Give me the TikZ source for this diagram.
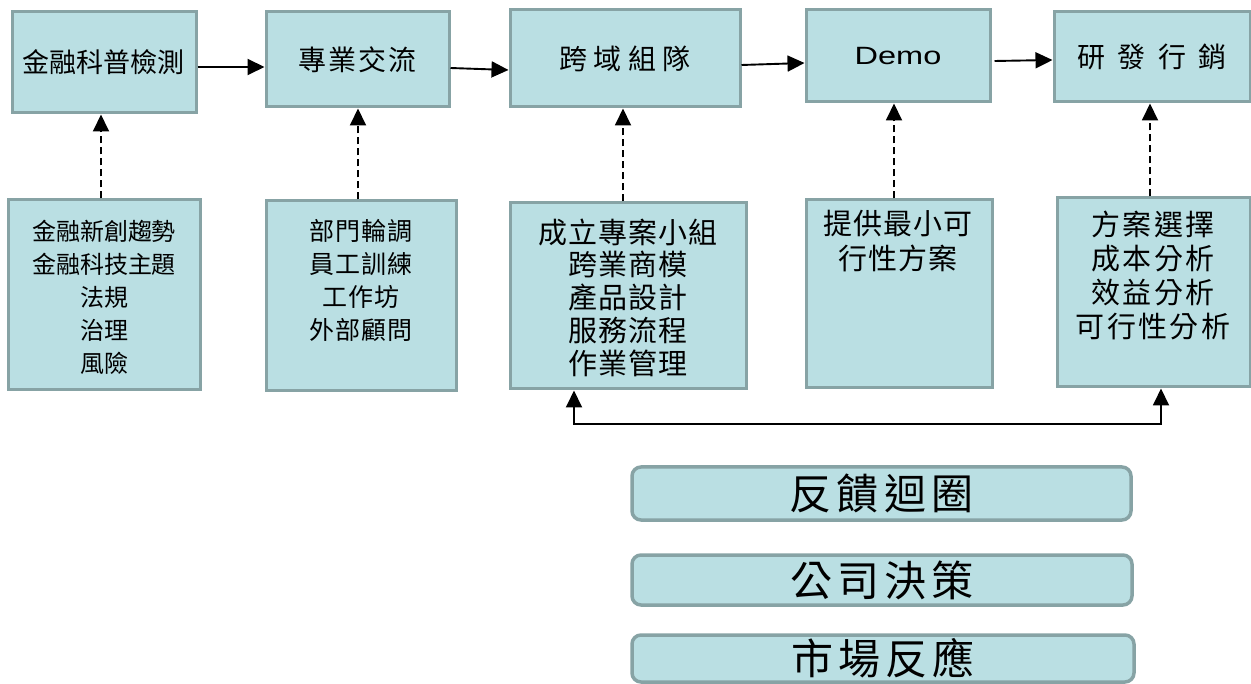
\documentclass[tikz,border=0pt]{standalone}
\usepackage{fontspec}
\setmainfont{Noto Sans CJK TC}
\newfontfamily\demofont{Liberation Sans}
\usetikzlibrary{arrows.meta}
\definecolor{boxfill}{RGB}{186,223,227}
\definecolor{boxline}{RGB}{135,163,165}
\newcommand{\fsz}[2]{\fontsize{#1}{#2}\selectfont}
\newcommand{\lsp}[1]{\addfontfeatures{LetterSpace=#1}}

\begin{document}
\begin{tikzpicture}[x=1pt,y=-1pt,
  stagebox/.style={draw=boxline, fill=boxfill, line width=3pt, inner sep=0pt},
  tagbox/.style={draw=boxline, fill=boxfill, line width=3.5pt, rounded corners=9pt, inner sep=0pt},
  notetext/.style={anchor=north, align=center, inner sep=0pt},
  tip/.style={-{Triangle[length=17pt,width=16pt]}},
  flow/.style={line width=1.9pt, tip},
  feed/.style={line width=1.9pt, dash pattern=on 7pt off 4pt, tip},
  loopline/.style={line width=1.9pt, {Triangle[length=17pt,width=16pt]}-{Triangle[length=17pt,width=16pt]}}
]
\useasboundingbox (0,0) rectangle (1251,684);

% stages of the process
\node[stagebox, minimum width=184pt, minimum height=101pt, font=\fsz{27}{30}] (s1) at (104,62.5) {金融科普檢測};
\node[stagebox, minimum width=183pt, minimum height=95pt, font=\fsz{28}{30}\lsp{8}] (s2) at (357.5,59.5) {專業交流};
\node[stagebox, minimum width=230pt, minimum height=97pt, font=\fsz{28}{30}\lsp{23}] (s3) at (625,58.5) {跨域組隊};
\node[stagebox, minimum width=184pt, minimum height=92pt, font=\demofont\fsz{25}{30}] (s4) at (898,56) {\scalebox{1.3}[1]{Demo}};
\node[stagebox, minimum width=196pt, minimum height=90pt, font=\fsz{28}{30}\lsp{45}] (s5) at (1152,57) {研發行銷};

% supporting items under each stage
\node[stagebox, minimum width=192pt, minimum height=190pt] (d1) at (104,295) {};
\node[stagebox, minimum width=190pt, minimum height=190pt] (d2) at (361,296) {};
\node[stagebox, minimum width=236pt, minimum height=186pt] (d3) at (628,296) {};
\node[stagebox, minimum width=186pt, minimum height=188pt] (d4) at (899,294) {};
\node[stagebox, minimum width=193pt, minimum height=189pt] (d5) at (1153.5,292.5) {};

\node[notetext, font=\fsz{24}{33}] (n1) at (104,220) {金融新創趨勢\\金融科技主題\\法規\\治理\\風險};
\node[notetext, font=\fsz{25}{33}\lsp{5}] (n2) at (361,219.5) {部門輪調\\員工訓練\\工作坊\\外部顧問};
\node[notetext, font=\fsz{29}{32.75}\lsp{4}] (n3) at (628,218.5) {成立專案小組\\跨業商模\\產品設計\\服務流程\\作業管理};
\node[notetext, font=\fsz{29}{35}\lsp{3}] (n4) at (898,209.5) {提供最小可\\行性方案};
\node[notetext, font=\fsz{29}{34}\lsp{8}] (n5) at (1153,210.5) {方案選擇\\成本分析\\效益分析\\可行性分析};

% main flow
\draw[flow] ([yshift=-4.5pt]s1.east) -- ([yshift=-7.5pt]s2.west);
\draw[flow] ([yshift=-8.5pt]s2.east) -- ([yshift=-11.5pt]s3.west);
\draw[flow] ([yshift=-6.5pt]s3.east) -- ([yshift=-7pt]s4.west);
\draw[flow] ([xshift=3pt,yshift=-5pt]s4.east) -- ([yshift=-3pt]s5.west);

% dashed links from the supporting items
\draw[feed] ([xshift=-3pt]d1.north) -- ([xshift=-3pt]d1.north |- s1.south);
\draw[feed] ([xshift=-3pt]d2.north) -- ([xshift=-3pt]d2.north |- s2.south);
\draw[feed] ([xshift=-5pt]d3.north) -- ([xshift=-5pt]d3.north |- s3.south);
\draw[feed] ([xshift=-5pt]d4.north) -- ([xshift=-5pt]d4.north |- s4.south);
\draw[feed] ([xshift=-3.5pt]d5.north) -- ([xshift=-3.5pt]d5.north |- s5.south);

% feedback loop between team building and R&D marketing
\coordinate (fl) at (574,424);
\coordinate (fr) at (1161,424);
\draw[loopline] (d3.south -| fl) -- (fl) -- (fr) -- (d5.south -| fr);

% legend tags
\node[tagbox, minimum width=499pt, minimum height=53pt, font=\fsz{42}{46}\lsp{12}] (t1) at (881.5,493.5) {反饋迴圈};
\node[tagbox, minimum width=500pt, minimum height=50pt, font=\fsz{42}{46}\lsp{12}] (t2) at (882,580) {公司決策};
\node[tagbox, minimum width=502pt, minimum height=47pt, font=\fsz{42}{46}\lsp{12}] (t3) at (883,658.5) {市場反應};
\end{tikzpicture}
\end{document}
